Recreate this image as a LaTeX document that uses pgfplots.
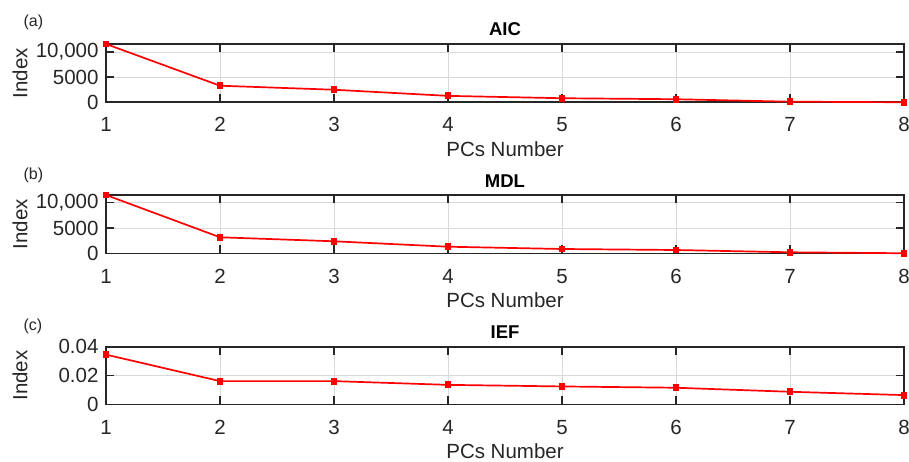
\documentclass[border=0pt]{standalone}
\usepackage{fontspec}
\setmainfont{Liberation Sans}
\usepackage{pgfplots}
\pgfplotsset{compat=1.18}
\definecolor{gridgray}{gray}{0.85}
\definecolor{axgray}{gray}{0.15}
\definecolor{txt}{gray}{0.15}
\pgfplotsset{
 panel/.style={
  scale only axis, width=798pt, height=58.3pt,
  anchor=south west,
  xmin=1, xmax=8, xtick={1,...,8}, ymin=0,
  scaled ticks=false,
  grid=major, major grid style={gridgray, line width=0.8pt},
  axis line style={axgray, line width=1.6pt},
  tick style={axgray, line width=1.4pt},
  major tick length=8pt,
  tick align=inside,
  tick label style={font=\fontsize{20.5}{22}\selectfont, text=txt},
  /pgf/number format/assume math mode=true,
  xticklabel style={anchor=base, yshift=-29.7pt},
  yticklabel style={xshift=-4pt},
  xlabel={PCs Number}, ylabel={Index},
  xlabel style={at={(axis description cs:0.5,0)}, anchor=base, yshift=-53.8pt, font=\fontsize{20.5}{22}\selectfont, text=txt},
  ylabel style={at={(axis description cs:-0.1078,0.5)}, anchor=center, font=\fontsize{20.5}{22}\selectfont, text=txt},
  every axis title shift=0pt,
  title style={at={(axis description cs:0.5,1)}, anchor=base, yshift=8pt, font=\bfseries\fontsize{18.5}{20}\selectfont, text=black},
  clip=false,
 },
 redline/.style={red, line width=1.7pt, mark=square*, mark size=2.6pt, mark options={solid, fill=red}},
}
\begin{document}
\begin{tikzpicture}[x=1pt,y=1pt]
\path[use as bounding box] (0,0) rectangle (909,461);
% (a)
\begin{axis}[panel, at={(106pt,358.7pt)}, ymax=11600, ytick={0,5000,10000}, yticklabels={0,5000,{10,000}}, title={AIC}]
\addplot[redline] coordinates {(1,11600) (2,3300) (3,2500) (4,1280) (5,810) (6,610) (7,120) (8,10)};
\end{axis}
% (b)
\begin{axis}[panel, at={(106pt,207.7pt)}, ymax=11500, ytick={0,5000,10000}, yticklabels={0,5000,{10,000}}, title={MDL}]
\addplot[redline] coordinates {(1,11500) (2,3160) (3,2370) (4,1300) (5,850) (6,650) (7,200) (8,10)};
\end{axis}
% (c)
\begin{axis}[panel, at={(106pt,56.7pt)}, height=57.6pt, ymax=0.04, ytick={0,0.02,0.04}, yticklabels={0,0.02,0.04}, title={IEF}]
\addplot[redline] coordinates {(1,0.0345) (2,0.0161) (3,0.0161) (4,0.0135) (5,0.0124) (6,0.0115) (7,0.0087) (8,0.0064)};
\end{axis}
\node[anchor=base west, font=\fontsize{16}{17}\selectfont, text=txt] at (20,434) {(a)};
\node[anchor=base west, font=\fontsize{16}{17}\selectfont, text=txt] at (20,281) {(b)};
\node[anchor=base west, font=\fontsize{16}{17}\selectfont, text=txt] at (20,131) {(c)};
\end{tikzpicture}
\end{document}
